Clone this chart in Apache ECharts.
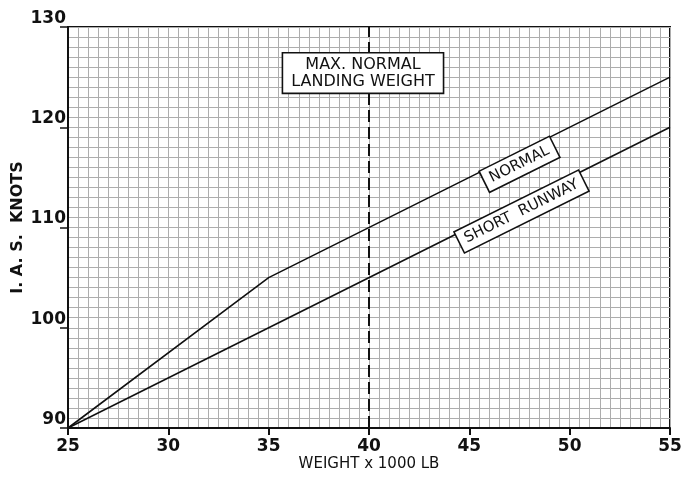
<!DOCTYPE html>
<html>
<head>
<meta charset="utf-8">
<script src="https://cdn.jsdelivr.net/npm/echarts@6/dist/echarts.min.js"></script>
<style>html,body{margin:0;padding:0;background:#fff;}#c{width:686px;height:482px;}</style>
</head>
<body>
<div id="c"></div>
<script>
// Data
const xTicks = [25, 30, 35, 40, 45, 50, 55];
const yTicks = [90, 100, 110, 120, 130];
const normalWeight = [25, 35, 55];
const normalIAS = [90, 105, 125];
const shortWeight = [25, 55];
const shortIAS = [90, 120];
const maxLandingWeight = 40;
const labelTexts = ['NORMAL', 'SHORT  RUNWAY', 'MAX. NORMAL\nLANDING WEIGHT'];
const labelWeight = [47.5, 47.6, 39.7];
const labelIAS = [116.3, 111.6, 125.4];

const chart = echarts.init(document.getElementById('c'), null, {renderer: 'canvas'});
const FONT = 'DejaVu Sans';
const gridLine = {color: '#adadad', width: 1};
const option = {
  backgroundColor: '#fff',
  animation: false,
  grid: {left: 68, right: 16, top: 27, bottom: 54, show: true, borderColor: '#111', borderWidth: 2, backgroundColor: 'transparent', containLabel: false, outerBoundsMode: 'none'},
  xAxis: {
    type: 'value', min: xTicks[0], max: xTicks[xTicks.length - 1], interval: 5,
    name: 'WEIGHT x 1000 LB', nameLocation: 'middle', nameGap: 29, nameMoveOverlap: false,
    nameTextStyle: {fontFamily: FONT, fontSize: 15, fontWeight: 'normal', color: '#111'},
    axisLine: {show: true, lineStyle: {color: '#111', width: 2}},
    axisTick: {show: true, length: 7, lineStyle: {color: '#111', width: 2}},
    axisLabel: {fontFamily: FONT, fontSize: 17, fontWeight: 'bold', color: '#111', margin: 10},
    splitLine: {show: true, lineStyle: gridLine},
    minorTick: {show: false, splitNumber: 10},
    minorSplitLine: {show: true, lineStyle: gridLine}
  },
  yAxis: {
    type: 'value', min: yTicks[0], max: yTicks[yTicks.length - 1], interval: 10,
    name: 'I. A. S.  KNOTS', nameLocation: 'middle', nameGap: 42, nameMoveOverlap: false,
    nameTextStyle: {fontFamily: FONT, fontSize: 16, fontWeight: 'bold', color: '#111'},
    axisLine: {show: true, lineStyle: {color: '#111', width: 2}},
    axisTick: {show: true, length: 8, lineStyle: {color: '#111', width: 1.5}},
    axisLabel: {fontFamily: FONT, fontSize: 17, fontWeight: 'bold', color: '#111', margin: 2, verticalAlign: 'bottom'},
    splitLine: {show: true, lineStyle: gridLine},
    minorTick: {show: false, splitNumber: 10},
    minorSplitLine: {show: true, lineStyle: gridLine}
  },
  series: [
    {
      type: 'line', name: 'NORMAL', symbol: 'none',
      data: normalWeight.map((w, i) => [w, normalIAS[i]]),
      lineStyle: {color: '#111', width: 1.6}, z: 5,
      markLine: {
        silent: true, symbol: 'none', label: {show: false},
        lineStyle: {color: '#111', type: [12, 5], width: 2},
        data: [{xAxis: maxLandingWeight}]
      }
    },
    {
      type: 'line', name: 'SHORT RUNWAY', symbol: 'none',
      data: shortWeight.map((w, i) => [w, shortIAS[i]]),
      lineStyle: {color: '#111', width: 1.6}, z: 5
    },
    {
      type: 'scatter', symbolSize: 0, z: 10, silent: true,
      itemStyle: {opacity: 1, color: '#111'},
      data: labelTexts.map((t, i) => ({
        value: [labelWeight[i], labelIAS[i]],
        label: {
          show: true, position: 'inside', formatter: t,
          rotate: i < 2 ? 26.4 : 0,
          align: 'center', verticalAlign: 'middle',
          fontFamily: FONT, fontSize: i < 2 ? 15 : 16, fontWeight: 'normal', color: '#111',
          textBorderWidth: 0, textBorderColor: 'transparent',
          backgroundColor: '#fff', borderColor: '#111', borderWidth: 1.6, opacity: 1,
          padding: i < 2 ? [3, 6, 2, 6] : [3, 8, 2, 8], lineHeight: 17
        }
      }))
    }
  ]
};
chart.setOption(option);
</script>
</body>
</html>
